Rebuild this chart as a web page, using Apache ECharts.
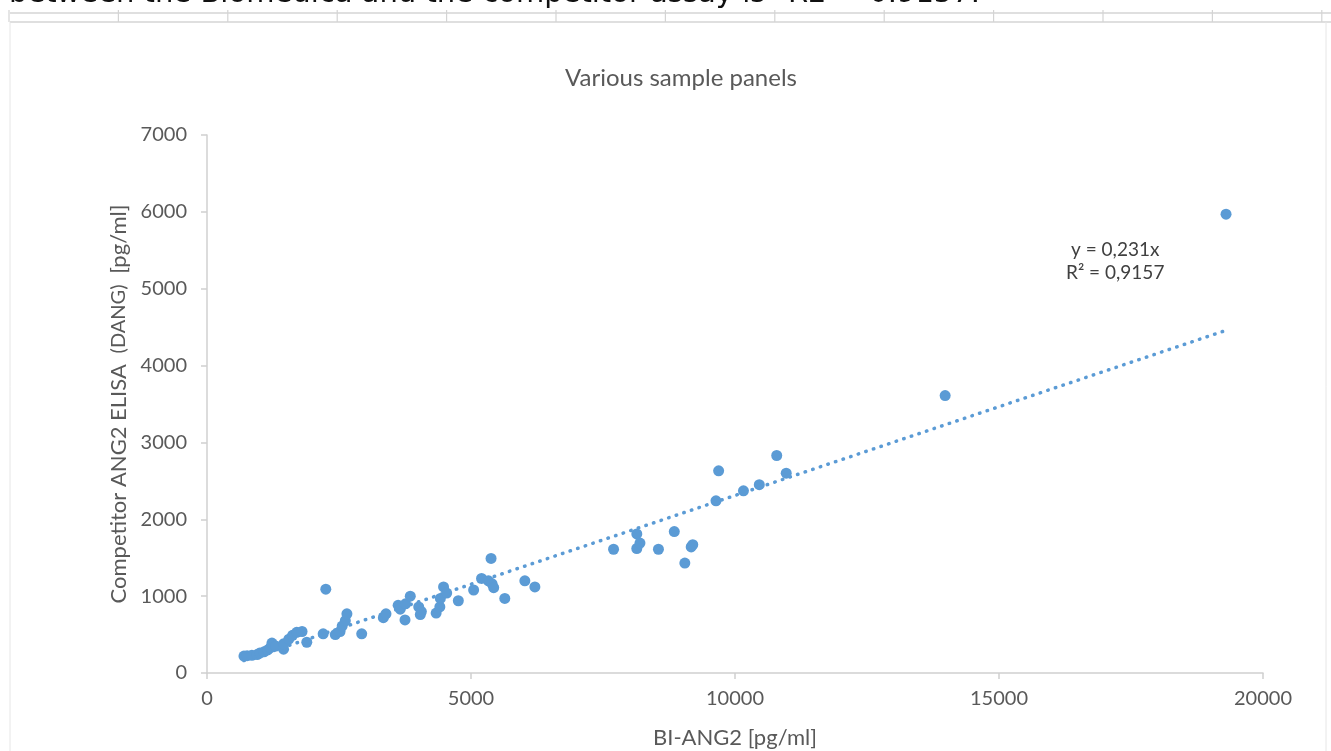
<!DOCTYPE html>
<html>
<head>
<meta charset="utf-8">
<script src="https://cdn.jsdelivr.net/npm/echarts@6/dist/echarts.min.js"></script>
<style>
html,body{margin:0;padding:0;background:#fff;overflow:hidden;}
#chart{width:1331px;height:751px;}
</style>
</head>
<body>
<div id="chart"></div>
<script>
// Data: [BI-ANG2, Competitor ANG2]
var biAng2 = [
  700, 760, 850, 950, 1000, 1080, 1150, 1200, 1230, 1300, 1450, 1450, 1550, 1620, 1700, 1800, 1890,
  2200, 2250, 2430, 2520, 2560, 2620, 2650, 2930,
  3340, 3390, 3620, 3660, 3750, 3760, 3850, 4010, 4040, 4060, 4340, 4410, 4420, 4480, 4540, 4760,
  5050, 5200, 5330, 5380, 5400, 5430, 5640, 6020, 6210,
  7700, 8140, 8140, 8200, 8550, 8850, 9050, 9170, 9200, 9640, 9690, 10160, 10460, 10790, 10970,
  13980, 19300
];
var competitorAng2 = [
  220, 225, 230, 240, 260, 275, 300, 330, 390, 350, 310, 380, 440, 490, 530, 540, 400,
  510, 1090, 500, 540, 610, 680, 770, 510,
  720, 770, 880, 830, 690, 900, 1000, 860, 760, 800, 780, 860, 970, 1120, 1040, 940,
  1080, 1230, 1200, 1490, 1160, 1110, 970, 1200, 1120,
  1610, 1810, 1620, 1690, 1610, 1840, 1430, 1640, 1670, 2240, 2630, 2370, 2450, 2830, 2600,
  3610, 5970
];
// Linear trendline through origin as printed on the chart: y = 0,231x
var trendSlope = 0.231;
var trendX = [700, 19300];
var trendLabel = ['y = 0,231x', 'R\u00b2 = 0,9157'];
var xTicks = [0, 5000, 10000, 15000, 20000];
var yTicks = [0, 1000, 2000, 3000, 4000, 5000, 6000, 7000];
var chartTitle = 'Various sample panels';
var xName = 'BI-ANG2 [pg/ml]';
var yNameParts = ['Competitor ANG2 ELISA ', ' (DANG) ', ' [pg/ml]'];
var headerText = 'between the Biomedica and the competitor assay is "R2 = 0.9157.';

var points = biAng2.map(function (x, i) { return [x, competitorAng2[i]]; });
var trendPoints = trendX.map(function (x) { return [x, x * trendSlope]; });

var chart = echarts.init(document.getElementById('chart'));
var gray = '#595959';
var font = 'Lato, "Open Sans", sans-serif';

// decorative spreadsheet cell lines at the top
var deco = [];
deco.push({type:'line', shape:{x1:10,y1:13,x2:1331,y2:13}, style:{stroke:'#d4d4d4',lineWidth:1.5}, silent:true});
deco.push({type:'line', shape:{x1:10,y1:22,x2:1331,y2:22}, style:{stroke:'#d4d4d4',lineWidth:1.5}, silent:true});
for (var k = 0; k < 13; k++) {
  var vx = 9 + k * 109.4;
  deco.push({type:'line', shape:{x1:vx,y1:10,x2:vx,y2:22}, style:{stroke:'#d4d4d4',lineWidth:1.2}, silent:true});
}
deco.push({type:'line', shape:{x1:10,y1:22,x2:10,y2:751}, style:{stroke:'#e6e6e6',lineWidth:1}, silent:true});
deco.push({type:'line', shape:{x1:1326,y1:22,x2:1326,y2:751}, style:{stroke:'#e6e6e6',lineWidth:1}, silent:true});
deco.push({type:'text', left:9, top:-20, style:{text:headerText, fontSize:29, fontFamily:'"DejaVu Sans", sans-serif', fill:'#111'}, silent:true});
deco.push({type:'text', left:1066, top:238, style:{text:trendLabel.join('\n'), fontSize:19, lineHeight:23, fontFamily:font, fill:'#404040', textAlign:'center'}, silent:true});

chart.setOption({
  backgroundColor:'#fff',
  animation:false,
  title:{text:chartTitle, left:676, top:61, textAlign:'center', textStyle:{fontSize:24, fontWeight:'normal', color:gray, fontFamily:font}},
  grid:{left:207, right:68, top:135, bottom:78, outerBoundsMode:'none', containLabel:false},
  xAxis:{
    type:'value', min:xTicks[0], max:xTicks[xTicks.length-1], interval:5000,
    name:xName, nameLocation:'middle', nameGap:54,
    nameTextStyle:{fontSize:22, color:gray, fontFamily:font},
    axisLine:{show:true, lineStyle:{color:'#d0d0d0', width:1.5}},
    axisTick:{show:true, length:6, lineStyle:{color:'#d0d0d0', width:1.5}},
    axisLabel:{fontSize:20, color:gray, fontFamily:font, margin:16, formatter:function(v){return String(v);}},
    splitLine:{show:false}
  },
  yAxis:{
    type:'value', min:yTicks[0], max:yTicks[yTicks.length-1], interval:1000,
    name:'{a|' + yNameParts[0] + '}{b|' + yNameParts[1] + '}{a|' + yNameParts[2] + '}',
    nameLocation:'middle', nameGap:76,
    nameTextStyle:{color:gray, fontFamily:font, rich:{
      a:{fontSize:22, color:gray, fontFamily:font},
      b:{fontSize:20, color:gray, fontFamily:font}
    }},
    axisLine:{show:true, lineStyle:{color:'#d0d0d0', width:1.5}},
    axisTick:{show:true, length:6, lineStyle:{color:'#d0d0d0', width:1.5}},
    axisLabel:{fontSize:20, color:gray, fontFamily:font, margin:20, formatter:function(v){return String(v);}},
    splitLine:{show:false}
  },
  graphic:deco,
  series:[
    {type:'line', data:trendPoints, showSymbol:false, symbol:'none', silent:true, z:1,
     lineStyle:{color:'#5B9BD5', width:3.5, type:[0.5,7.5], cap:'round'}},
    {type:'scatter', data:points, symbolSize:11, z:2,
     itemStyle:{color:'#5B9BD5', opacity:1}}
  ]
});
</script>
</body>
</html>
